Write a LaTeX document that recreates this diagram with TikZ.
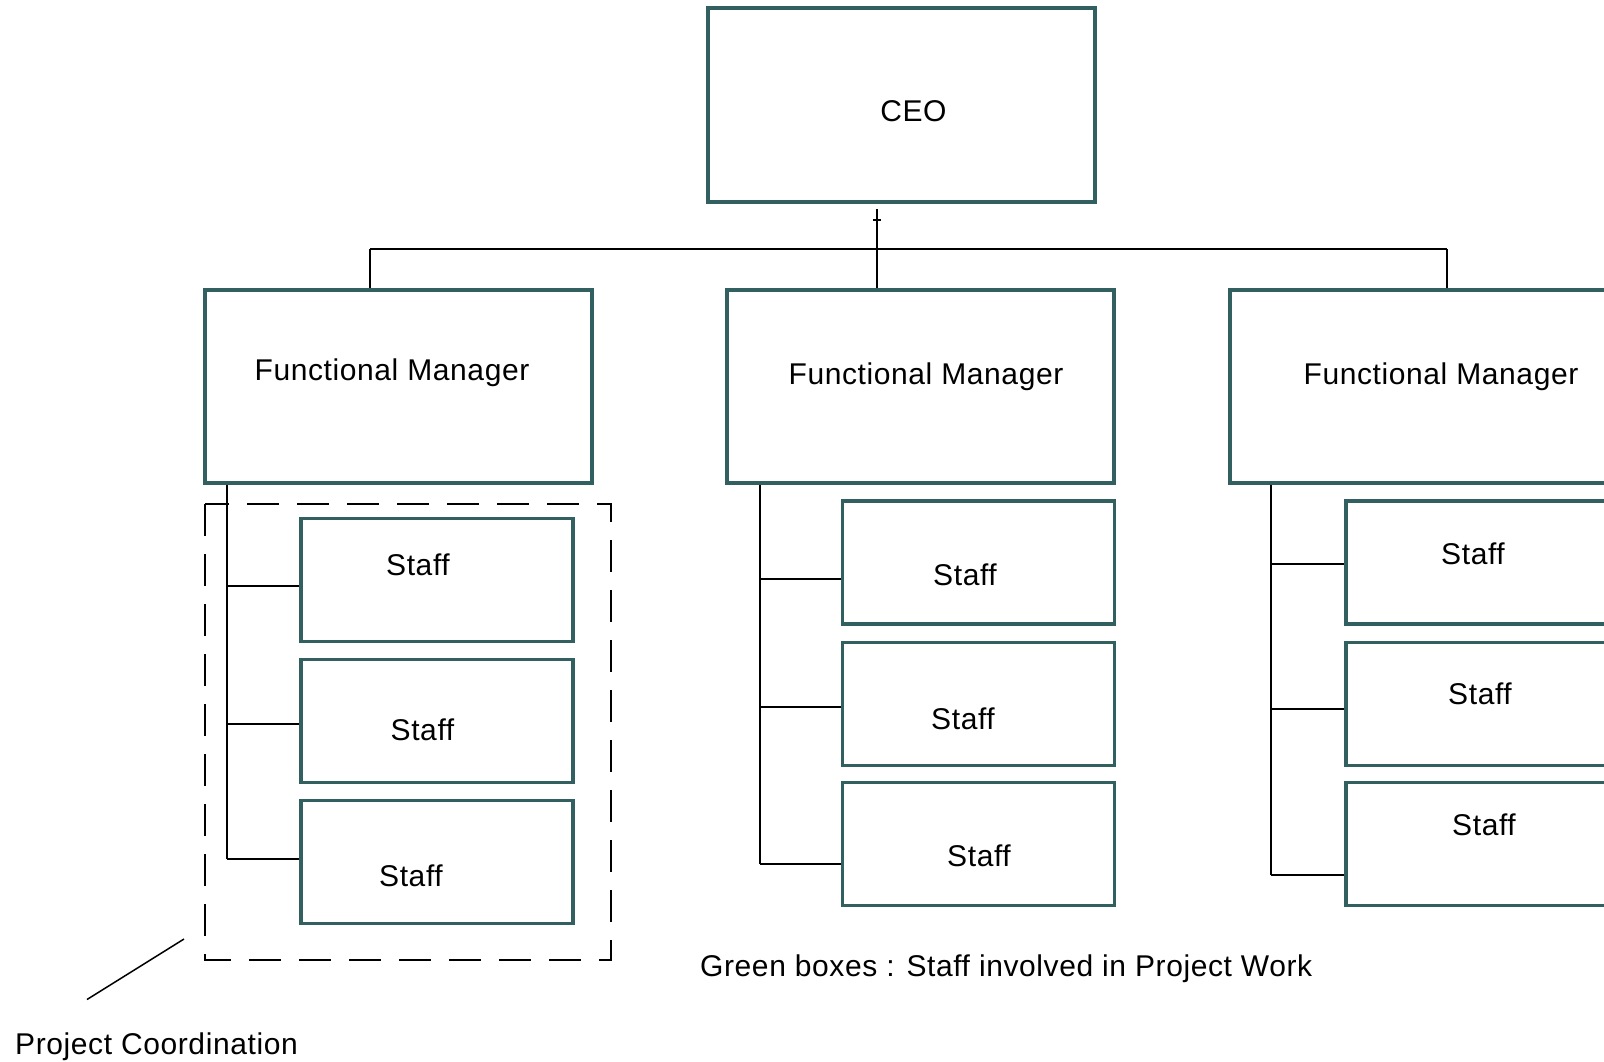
\documentclass[tikz,border=0pt]{standalone}
\usepackage{fontspec}
\setmainfont[LetterSpace=2]{Liberation Sans}
\usetikzlibrary{positioning}
\definecolor{boxline}{RGB}{50,96,96}
\tikzset{
box/.style = {
     draw=boxline,
     line width=3.6pt,
     fill=white,
     inner sep=0pt
   },
head box/.style = {box, minimum width=387pt, minimum height=194pt},
manager box/.style = {box, minimum width=387pt, minimum height=193pt},
staff box/.style = {box, minimum width=272pt, minimum height=123pt},
caption/.style = {
     font=\fontsize{30}{32}\selectfont,
     inner sep=0pt,
     text height=0.72em,
     text depth=0pt,
     yshift=-7pt
   },
link/.style = {
     draw=black,
     line width=2pt
   },
group/.style = {
    draw=black,
    line width=2.6pt,
    dash pattern=on 32pt off 18pt
  }
}
\begin{document}
\begin{tikzpicture}[x=1pt, y=-1pt]
\useasboundingbox (0,0) rectangle (1604,1061);
% top of the chart
\node[head box] (ceo) at (901.5,105) {};
\node[caption] (ceoText) at (913.5,110.5) {CEO};
\foreach \col/\x/\tx/\ty in {L/398.5/392/370, M/920.5/926/374, R/1423.5/1441/374} {
   \node[manager box] (fm\col) at (\x,386.5) {};
   \node[caption] (fmText\col) at (\tx,\ty) {Functional Manager};
}
\coordinate (bus) at (877,249);
\coordinate (dropL) at (370,249);
\coordinate (dropR) at (1447,249);
\draw[link] (dropL) -- (dropR);
\draw[link] (dropL) -- (dropL |- fmL.north);
\draw[link] (dropR) -- (dropR |- fmR.north);
\draw[link] ([yshift=-5pt]ceo.south -| bus) -- (bus |- fmM.north);
\draw[link, line width=1.5pt] ([xshift=-4pt]bus |- 0,220) -- ([xshift=4pt]bus |- 0,220);
% staff under each manager
\foreach \col/\bx/\tk/\rows in {
  L/437/227/{1/580/418/565/586, 2/721/422.5/730/724, 3/862/411/876/859},
  M/978.5/760/{1/562.5/965/575/579, 2/704/963/719/707, 3/844/979/856/864},
  R/1482/1270.5/{1/562.5/1473/554/564, 2/704/1480/694/709, 3/844/1484/824.5/875}} {
   \foreach \r/\by/\tx/\ty/\ly in \rows {
      \node[staff box] (s\col\r) at (\bx,\by) {};
      \node[caption] (t\col\r) at (\tx,\ty) {Staff};
      \coordinate (b\col\r) at (\tk,\ly);
      \draw[link] (b\col\r) -- (b\col\r -| s\col\r.west);
   }
   \draw[link] (b\col3) -- (b\col3 |- fm\col.south);
}
% project coordination
\draw[group] (205,504) rectangle (611,960);
\coordinate (leadTop) at (184,939);
\coordinate (leadEnd) at (87,999.5);
\draw[link, line width=1.5pt] (leadTop) -- (leadEnd);
\node[caption, anchor=west] (coord) at (15,1043.5) {Project Coordination};
\node[caption, anchor=west] (note) at (700,966) {Green boxes : Staff involved in Project Work};
\end{tikzpicture}
\end{document}
